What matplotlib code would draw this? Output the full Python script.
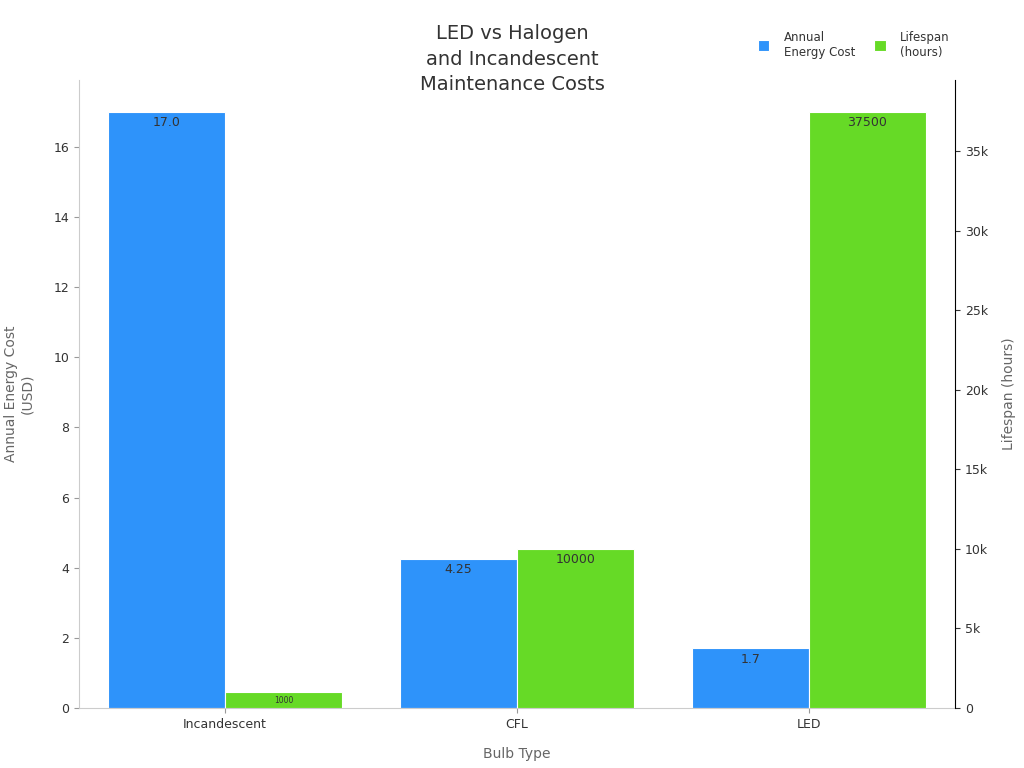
import matplotlib.pyplot as plt
import numpy as np

# Data
categories = ['Incandescent', 'CFL', 'LED']
energy_cost = [17.0, 4.25, 1.7]
lifespan = [1000, 10000, 37500]
energy_labels = ['17.0', '4.25', '1.7']
lifespan_labels = ['1000', '10000', '37500']

blue = '#2E93FA'
green = '#66DA26'
text_col = '#333333'
axis_col = '#666666'

fig = plt.figure(figsize=(10.24, 7.68), dpi=100)
ax = fig.add_axes([79 / 1024, 60 / 768, 876 / 1024, 628 / 768])
ax2 = ax.twinx()

x = np.arange(len(categories))
w = 0.4
b1 = ax.bar(x - w / 2, energy_cost, w, color=blue, edgecolor='white', linewidth=0.8,
            label='Annual\nEnergy Cost')
b2 = ax2.bar(x + w / 2, lifespan, w, color=green, edgecolor='white', linewidth=0.8,
             label='Lifespan\n(hours)')

ax.set_xlim(-0.5, 2.5)
ax.set_ylim(0, max(energy_cost) * 1.053)
ax2.set_ylim(0, max(lifespan) * 1.053)

ax.set_yticks([0, 2, 4, 6, 8, 10, 12, 14, 16])
ax2.set_yticks([0, 5000, 10000, 15000, 20000, 25000, 30000, 35000])
ax2.set_yticklabels(['0', '5k', '10k', '15k', '20k', '25k', '30k', '35k'])
ax.set_xticks(x)
ax.set_xticklabels(categories)

for a in (ax, ax2):
    a.tick_params(labelsize=9, colors=text_col)
    a.spines['top'].set_visible(False)
ax.tick_params(axis='x', colors='#999999', labelcolor=text_col)
ax.tick_params(axis='y', colors='#999999', labelcolor=text_col)
ax.spines['left'].set_color('#cccccc')
ax.spines['bottom'].set_color('#cccccc')
ax.spines['right'].set_visible(False)
ax2.spines['left'].set_visible(False)
ax2.spines['bottom'].set_visible(False)
ax2.spines['right'].set_color('black')
ax2.tick_params(axis='y', colors='#333333', labelcolor=text_col)

ax.set_xlabel('Bulb Type', fontsize=10, color=axis_col, labelpad=12)
ax.set_ylabel('Annual Energy Cost\n(USD)', fontsize=10, color=axis_col, labelpad=14)
ax2.set_ylabel('Lifespan (hours)', fontsize=10, color=axis_col, labelpad=10)

# bar labels
for rect, lab in zip(b1, energy_labels):
    ax.annotate(lab, (rect.get_x() + rect.get_width() / 2, rect.get_height()),
                xytext=(0, -3), textcoords='offset points', ha='center', va='top',
                fontsize=9, color=text_col)
for rect, lab, v in zip(b2, lifespan_labels, lifespan):
    fs = 5.5 if v < 2000 else 9
    ax2.annotate(lab, (rect.get_x() + rect.get_width() / 2, rect.get_height()),
                 xytext=(0, -3), textcoords='offset points', ha='center', va='top',
                 fontsize=fs, color=text_col)

fig.text(0.5, 1 - 24 / 768, 'LED vs Halogen\nand Incandescent\nMaintenance Costs',
         ha='center', va='top', fontsize=14, color=text_col, linespacing=1.45)

h1, l1 = ax.get_legend_handles_labels()
h2, l2 = ax2.get_legend_handles_labels()
leg = fig.legend(h1 + h2, l1 + l2, loc='upper right',
                 bbox_to_anchor=(1 - 64 / 1024, 1 - 20 / 768),
                 ncol=2, frameon=False, fontsize=8.5, handlelength=1.0, handleheight=1.1,
                 columnspacing=1.6, handletextpad=1.2)
for t in leg.get_texts():
    t.set_color(text_col)

plt.savefig('out.png', dpi=100)
